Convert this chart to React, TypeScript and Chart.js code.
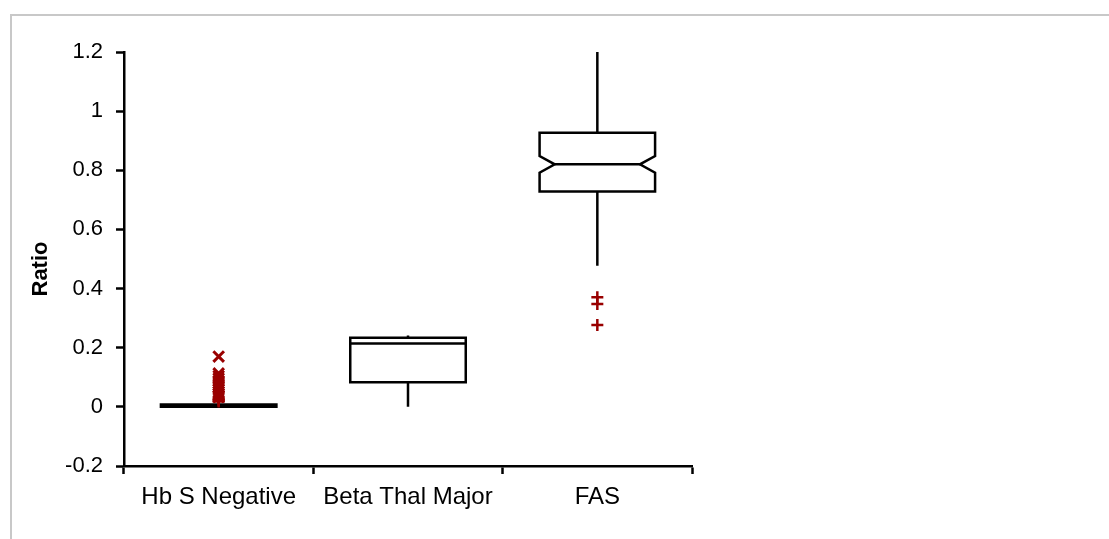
import React, { useEffect, useRef } from "react";
import { Chart, registerables } from "chart.js";

Chart.register(...registerables);

const categories = ["Hb S Negative", "Beta Thal Major", "FAS"];
const whiskerLow = [0, 0, 0.477];
const q1 = [0, 0.083, 0.728];
const median = [0.004, 0.214, 0.82];
const q3 = [0.008, 0.234, 0.927];
const whiskerHigh = [0.012, 0.241, 1.2];
const notchLow: (number | null)[] = [null, null, 0.792];
const notchHigh: (number | null)[] = [null, null, 0.848];

const hbsCrossOutliers = [0.17, 0.113, 0.104, 0.096, 0.088, 0.08, 0.072, 0.066, 0.058, 0.05, 0.044, 0.038, 0.033];
const hbsPlusOutliers = [0.028, 0.022, 0.018];
const fasPlusOutliers = [0.371, 0.348, 0.277];

const yTickValues = [-0.2, 0, 0.2, 0.4, 0.6, 0.8, 1, 1.2];
const yTickLabels = ["-0.2", "0", "0.2", "0.4", "0.6", "0.8", "1", "1.2"];

const FONT = "'Liberation Sans', Arial, sans-serif";
const OUTLIER_COLOR = "#990000";
const LW = 2.5;

const boxPlugin = {
  id: "boxPlugin",
  beforeDraw(chart: any) {
    const ctx = chart.ctx;
    ctx.save();
    ctx.strokeStyle = "#c8c8c8";
    ctx.lineWidth = 2;
    ctx.strokeRect(11, 15, 3000, 3000);
    ctx.restore();
  },
  beforeDatasetsDraw(chart: any) {
    const ctx = chart.ctx;
    const xs = chart.scales.x;
    const ys = chart.scales.y;
    const step = xs.getPixelForValue(1) - xs.getPixelForValue(0);
    const half = step * 0.305;
    const notchInset = step * 0.08;
    ctx.save();
    ctx.strokeStyle = "#000";
    ctx.lineWidth = LW;
    ctx.lineJoin = "miter";
    for (let i = 0; i < categories.length; i++) {
      const cx = xs.getPixelForValue(i);
      const yMin = ys.getPixelForValue(whiskerLow[i]);
      const yQ1 = ys.getPixelForValue(q1[i]);
      const yMed = ys.getPixelForValue(median[i]);
      const yQ3 = ys.getPixelForValue(q3[i]);
      const yMax = ys.getPixelForValue(whiskerHigh[i]);
      ctx.beginPath();
      ctx.moveTo(cx, yMax);
      ctx.lineTo(cx, yQ3);
      ctx.moveTo(cx, yQ1);
      ctx.lineTo(cx, yMin);
      ctx.stroke();
      const l = cx - half;
      const r = cx + half;
      ctx.beginPath();
      const nl = notchLow[i];
      const nh = notchHigh[i];
      if (nl !== null && nh !== null) {
        const yNl = ys.getPixelForValue(nl);
        const yNh = ys.getPixelForValue(nh);
        ctx.moveTo(l, yQ3);
        ctx.lineTo(l, yNh);
        ctx.lineTo(l + notchInset, yMed);
        ctx.lineTo(l, yNl);
        ctx.lineTo(l, yQ1);
        ctx.lineTo(r, yQ1);
        ctx.lineTo(r, yNl);
        ctx.lineTo(r - notchInset, yMed);
        ctx.lineTo(r, yNh);
        ctx.lineTo(r, yQ3);
        ctx.closePath();
        ctx.fillStyle = "#fff";
        ctx.fill();
        ctx.stroke();
        ctx.beginPath();
        ctx.moveTo(l + notchInset, yMed);
        ctx.lineTo(r - notchInset, yMed);
        ctx.stroke();
      } else {
        ctx.rect(l, yQ3, r - l, yQ1 - yQ3);
        ctx.fillStyle = "#fff";
        ctx.fill();
        ctx.stroke();
        ctx.beginPath();
        ctx.moveTo(l, yMed);
        ctx.lineTo(r, yMed);
        ctx.stroke();
      }
    }
    ctx.translate(41, 269);
    ctx.rotate(-Math.PI / 2);
    ctx.font = `bold 22px ${FONT}`;
    ctx.fillStyle = "#000";
    ctx.textAlign = "center";
    ctx.textBaseline = "middle";
    ctx.fillText("Ratio", 0, 0);
    ctx.restore();
  },
};

export default function App() {
  const ref = useRef<HTMLCanvasElement>(null);
  useEffect(() => {
    if (!ref.current) return;
    const chart = new Chart(ref.current, {
      type: "line",
      data: {
        labels: categories,
        datasets: [
          {
            data: hbsCrossOutliers.map((v) => ({ x: categories[0], y: v })),
            showLine: false,
            pointStyle: "crossRot",
            pointRadius: 7.5,
            pointBorderWidth: 3,
            borderColor: OUTLIER_COLOR,
            backgroundColor: OUTLIER_COLOR,
          },
          {
            data: [
              ...hbsPlusOutliers.map((v) => ({ x: categories[0], y: v })),
              ...fasPlusOutliers.map((v) => ({ x: categories[2], y: v })),
            ],
            showLine: false,
            pointStyle: "cross",
            pointRadius: 6,
            pointBorderWidth: 2.5,
            borderColor: OUTLIER_COLOR,
            backgroundColor: OUTLIER_COLOR,
          },
        ],
      } as any,
      options: {
        animation: false,
        responsive: false,
        events: [],
        layout: { padding: { left: 0, top: 52, right: 417, bottom: 0 } },
        plugins: { legend: { display: false }, tooltip: { enabled: false } },
        scales: {
          x: {
            type: "category",
            offset: true,
            grid: {
              offset: true,
              drawOnChartArea: false,
              drawTicks: true,
              tickLength: 8,
              tickWidth: LW,
              tickColor: "#000",
            },
            border: { display: true, color: "#000", width: LW },
            ticks: { color: "#000", font: { family: FONT, size: 24 }, padding: 9, maxRotation: 0 },
            afterFit: (s: any) => {
              s.height = 73;
            },
          },
          y: {
            type: "linear",
            min: -0.2,
            max: 1.2,
            afterBuildTicks: (s: any) => {
              s.ticks = yTickValues.map((v) => ({ value: v }));
            },
            grid: {
              drawOnChartArea: false,
              drawTicks: true,
              tickLength: 8,
              tickWidth: LW,
              tickColor: "#000",
            },
            border: { display: true, color: "#000", width: LW },
            ticks: {
              color: "#000",
              font: { family: FONT, size: 22 },
              padding: 13,
              callback: (v: any) => {
                const idx = yTickValues.findIndex((t) => Math.abs(t - v) < 1e-9);
                return idx >= 0 ? yTickLabels[idx] : "";
              },
            },
            afterFit: (s: any) => {
              s.width = 124;
            },
          },
        },
      },
      plugins: [boxPlugin],
    } as any);
    return () => chart.destroy();
  }, []);
  return (
    <div style={{ position: "fixed", left: 0, top: 0, width: 1109, height: 539, background: "#fff" }}>
      <canvas ref={ref} width={1109} height={539} style={{ display: "block" }} />
    </div>
  );
}
